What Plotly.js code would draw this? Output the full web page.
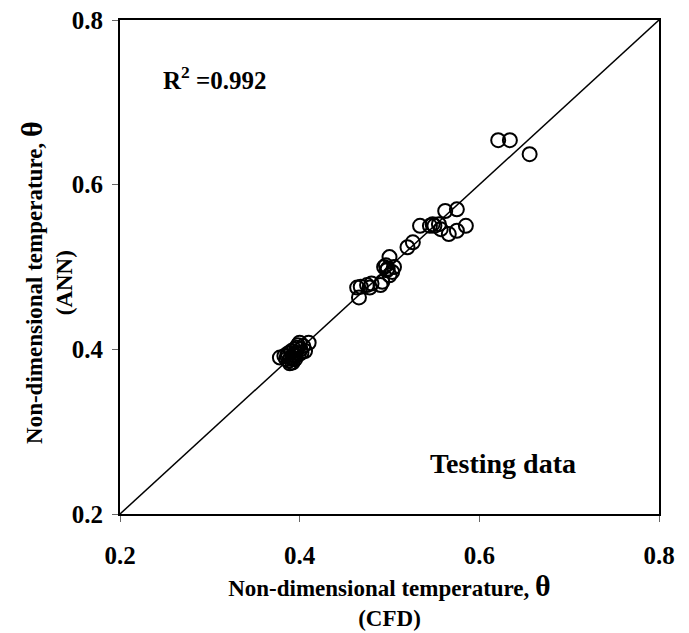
<!DOCTYPE html>
<html>
<head>
<meta charset="utf-8">
<script src="https://cdn.plot.ly/plotly-3.0.1.min.js"></script>
<style>html,body{margin:0;padding:0;background:#fff;}#chart{width:689px;height:633px;}</style>
</head>
<body>
<div id="chart"></div>
<script>
// CFD (x) vs ANN (y) non-dimensional temperature, testing data
const cfdValues = [
  0.378, 0.383, 0.385, 0.387, 0.388, 0.390, 0.391, 0.392, 0.393, 0.394,
  0.395, 0.396, 0.397, 0.398, 0.399, 0.400, 0.401, 0.402, 0.404, 0.406,
  0.410, 0.389, 0.386, 0.392, 0.395,
  0.464, 0.468, 0.466, 0.475, 0.480, 0.478, 0.490, 0.492, 0.494, 0.497,
  0.500, 0.500, 0.503, 0.505, 0.496, 0.498,
  0.520, 0.526, 0.534, 0.545, 0.550, 0.555, 0.557, 0.562, 0.575, 0.585,
  0.575, 0.566, 0.548,
  0.621, 0.634, 0.656
];
const annValues = [
  0.390, 0.392, 0.388, 0.395, 0.386, 0.390, 0.398, 0.384, 0.393, 0.400,
  0.388, 0.396, 0.402, 0.405, 0.394, 0.408, 0.400, 0.396, 0.404, 0.398,
  0.408, 0.383, 0.392, 0.388, 0.392,
  0.475, 0.476, 0.463, 0.478, 0.480, 0.475, 0.478, 0.482, 0.500, 0.496,
  0.512, 0.490, 0.494, 0.500, 0.502, 0.498,
  0.524, 0.530, 0.550, 0.550, 0.550, 0.552, 0.546, 0.568, 0.570, 0.550,
  0.544, 0.540, 0.552,
  0.654, 0.654, 0.637
];
const identityLine = [0.2, 0.8];
const tickVals = [0.2, 0.4, 0.6, 0.8];
const tickText = ['0.2', '0.4', '0.6', '0.8'];
const xTitle = 'Non-dimensional temperature, <span style="font-size:30px">θ</span><br>(CFD)';
const yTitle = 'Non-dimensional temperature, <span style="font-size:30px">θ</span><br>(ANN)';
const r2Label = 'R<sup>2</sup> =0.992';
const setLabel = 'Testing data';

const serif = 'Liberation Serif, Times New Roman, serif';

const traces = [
  {
    x: identityLine, y: identityLine, mode: 'lines', type: 'scatter',
    line: {color: '#000', width: 1.5}, hoverinfo: 'skip', showlegend: false
  },
  {
    x: cfdValues, y: annValues, mode: 'markers', type: 'scatter',
    marker: {symbol: 'circle-open', size: 14, color: '#000', line: {width: 2, color: '#000'}},
    showlegend: false
  }
];

const axisCommon = {
  range: [0.2, 0.8],
  tickvals: tickVals, ticktext: tickText,
  ticks: 'outside', ticklen: 6, tickwidth: 1, tickcolor: '#666',
  showline: true, mirror: true, linecolor: '#000', linewidth: 2,
  showgrid: false, zeroline: false,
  tickfont: {family: serif, size: 25, color: '#000', weight: 'bold'}
};

const layout = {
  width: 689, height: 633,
  margin: {l: 120, r: 30, t: 20, b: 119},
  paper_bgcolor: '#fff', plot_bgcolor: '#fff',
  showlegend: false,
  xaxis: Object.assign({}, axisCommon, {
    ticklabelstandoff: 12,
    title: {
      text: xTitle,
      font: {family: serif, size: 23, color: '#000', weight: 'bold'},
      standoff: 5
    }
  }),
  yaxis: Object.assign({}, axisCommon, {
    ticklabelstandoff: 4,
    title: {text: ''}
  }),
  annotations: [
    {
      text: yTitle, xref: 'paper', yref: 'paper', x: -0.137, y: 0.468,
      textangle: -90, showarrow: false, xanchor: 'center', yanchor: 'middle',
      font: {family: serif, size: 23, color: '#000', weight: 'bold'}
    },
    {
      text: r2Label, xref: 'paper', yref: 'paper', x: 0.176, y: 0.883,
      showarrow: false, xanchor: 'center', yanchor: 'middle',
      font: {family: serif, size: 25, color: '#000', weight: 'bold'}
    },
    {
      text: setLabel, xref: 'paper', yref: 'paper', x: 0.711, y: 0.103,
      showarrow: false, xanchor: 'center', yanchor: 'middle',
      font: {family: serif, size: 28, color: '#000', weight: 'bold'}
    }
  ]
};

Plotly.newPlot('chart', traces, layout, {displayModeBar: false, staticPlot: true});
</script>
</body>
</html>
